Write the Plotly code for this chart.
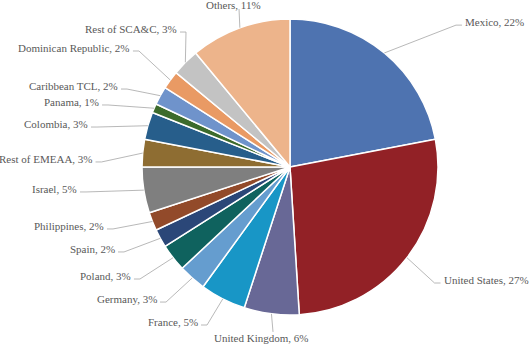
import math
import plotly.graph_objects as go

# ---- data ----
labels = ["Mexico", "United States", "United Kingdom", "France", "Germany", "Poland",
          "Spain", "Philippines", "Israel", "Rest of EMEAA", "Colombia", "Panama",
          "Caribbean TCL", "Dominican Republic", "Rest of SCA&C", "Others"]
values = [22, 27, 6, 5, 3, 3, 2, 2, 5, 3, 3, 1, 2, 2, 3, 11]
colors = ["#4E73B0", "#922126", "#686896", "#1896C6", "#659DCF", "#0F625E",
          "#2B4778", "#924A2A", "#7F7F7F", "#8E6D32", "#275E8B", "#3D6B2C",
          "#6F93CB", "#E99A64", "#C3C3C3", "#EDB48B"]

# ---- layout constants ----
W, H = 531, 345
cx, cy, R = 290, 167, 148          # pie centre / radius in px
rx, ry = 1.33 * R, 1.13 * R        # base label ellipse
# per-label nudges (px) to mimic the spreadsheet's label layout
label_nudge = {
    "Mexico": (46.5, -13), "United States": (-5, 13.5), "United Kingdom": (7.7, -1),
    "France": (0.4, 9), "Germany": (0.2, 9.6), "Poland": (-0.5, 9.5), "Spain": (0.5, 4.4),
    "Philippines": (0, 0.4), "Israel": (-15.6, -1.2), "Rest of EMEAA": (1.5, 10.7),
    "Colombia": (-10, 6.7), "Panama": (-7.3, 4.4), "Caribbean TCL": (3.5, 2.6),
    "Dominican Republic": (2.2, -17.7), "Rest of SCA&C": (29.2, -16.7),
    "Others": (15.7, -0.6),
}
font = dict(family="Liberation Serif, Times New Roman, serif", size=11, color="#595959")
line_col = "#A6A6A6"

def px2paper(x, y):
    return x / W, 1 - y / H

fig = go.Figure(go.Pie(
    labels=labels, values=values,
    marker=dict(colors=colors, line=dict(color="white", width=1.5)),
    sort=False, direction="clockwise", rotation=0,
    textinfo="none", hoverinfo="label+percent",
    domain=dict(x=[(cx - R) / W, (cx + R) / W],
                y=[(H - cy - R) / H, (H - cy + R) / H]),
    showlegend=False,
))

def seg(xa, ya, xb, yb):
    x0, y0 = px2paper(xa, ya)
    x1, y1 = px2paper(xb, yb)
    return dict(type="line", xref="paper", yref="paper", x0=x0, y0=y0, x1=x1, y1=y1,
                line=dict(color=line_col, width=0.8))

total = sum(values)
cum = 0
annotations, shapes = [], []
for lab, v in zip(labels, values):
    mid = (cum + v / 2) / total * 2 * math.pi
    cum += v
    s, c = math.sin(mid), math.cos(mid)
    ex, ey = cx + R * s, cy - R * c
    dx, dy = label_nudge.get(lab, (0, 0))
    lx, ly = cx + rx * s + dx, cy - ry * c + dy
    pct = round(v / total * 100)
    txt = f"{lab}, {pct}%".replace("&", "&amp;")
    if abs(s) < 0.36:
        shapes.append(seg(ex, ey, lx, ly))
        xa = "center"
        if c > 0:
            ya, tx, ty = "bottom", lx - 6, ly + 3
        else:
            ya, tx, ty = "top", lx - 12, ly - 1
    else:
        d = 1 if s > 0 else -1
        shapes.append(seg(ex, ey, lx - d * 6, ly))
        shapes.append(seg(lx - d * 6, ly, lx, ly))
        xa, ya = ("left" if s > 0 else "right"), "middle"
        tx, ty = lx + d * 2, ly - 3
    x1, y1 = px2paper(tx, ty)
    annotations.append(dict(x=x1, y=y1, xref="paper", yref="paper", text=txt,
                            showarrow=False, xanchor=xa, yanchor=ya,
                            borderpad=0, font=font))

fig.update_layout(
    width=W, height=H, margin=dict(l=0, r=0, t=0, b=0),
    paper_bgcolor="white", plot_bgcolor="white",
    annotations=annotations, shapes=shapes,
)
fig.write_html("out.html")
